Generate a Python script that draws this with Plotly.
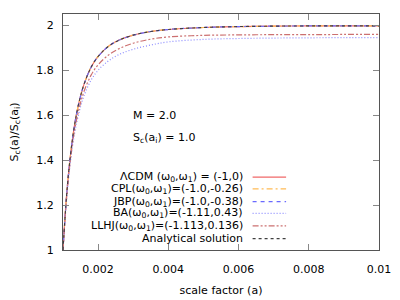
import plotly.graph_objects as go

# scale factor samples
a_vals = [0.001, 0.0011, 0.0012, 0.0013, 0.0014, 0.0015, 0.0016, 0.0018, 0.002,
          0.0023, 0.0026, 0.003, 0.0035, 0.004, 0.005, 0.006, 0.007, 0.008, 0.009, 0.01]

lcdm = [1.0, 1.238, 1.405, 1.527, 1.617, 1.685, 1.738, 1.813, 1.861,
        1.907, 1.934, 1.956, 1.972, 1.981, 1.990, 1.994, 1.996, 1.997, 1.997, 1.997]
cpl = [1.0, 1.238, 1.405, 1.527, 1.617, 1.685, 1.738, 1.813, 1.861,
       1.907, 1.934, 1.956, 1.972, 1.981, 1.990, 1.994, 1.996, 1.997, 1.997, 1.997]
jbp = [1.0, 1.238, 1.405, 1.527, 1.617, 1.685, 1.738, 1.813, 1.861,
       1.907, 1.934, 1.956, 1.972, 1.981, 1.990, 1.994, 1.996, 1.997, 1.997, 1.997]
ba = [1.0, 1.222, 1.378, 1.492, 1.575, 1.638, 1.687, 1.756, 1.800,
      1.842, 1.870, 1.893, 1.912, 1.926, 1.937, 1.941, 1.943, 1.944, 1.945, 1.945]
llhj = [1.0, 1.228, 1.388, 1.505, 1.590, 1.655, 1.706, 1.778, 1.824,
        1.868, 1.896, 1.920, 1.938, 1.948, 1.955, 1.957, 1.958, 1.958, 1.959, 1.959]
analytical = [1.0, 1.238, 1.405, 1.527, 1.617, 1.685, 1.738, 1.813, 1.861,
              1.907, 1.934, 1.956, 1.972, 1.981, 1.990, 1.994, 1.996, 1.997, 1.997, 1.997]

names = ["ΛCDM (ω<sub>0</sub>,ω<sub>1</sub>) = (-1,0)",
         "CPL(ω<sub>0</sub>,ω<sub>1</sub>)=(-1.0,-0.26)",
         "JBP(ω<sub>0</sub>,ω<sub>1</sub>)=(-1.0,-0.38)",
         "BA(ω<sub>0</sub>,ω<sub>1</sub>)=(-1.11,0.43)",
         "LLHJ(ω<sub>0</sub>,ω<sub>1</sub>)=(-1.113,0.136)",
         "Analytical solution"]
series = [lcdm, cpl, jbp, ba, llhj, analytical]
colors = ["#f06868", "#ffbb55", "#6a6aff", "#8c8cff", "#cc7070", "#404040"]
dashes = ["solid", "6px,3px,2px,3px", "4px,4px", "1px,2px", "6px,2px,2px,2px,2px,2px", "3px,3px"]
widths = [1.2, 1.2, 1.2, 1.2, 1.2, 1.1]

xticks = [0.002, 0.004, 0.006, 0.008, 0.01]
xticklabels = ["0.002", "0.004", "0.006", "0.008", "0.01"]
yticks = [1, 1.2, 1.4, 1.6, 1.8, 2]
yticklabels = ["1", "1.2", "1.4", "1.6", "1.8", "2"]

FONT = "DejaVu Sans"
FS = 11
fig = go.Figure()
for ys, nm, c, d, w in zip(series, names, colors, dashes, widths):
    fig.add_trace(go.Scatter(x=a_vals, y=ys, mode="lines", name=nm,
                             line=dict(color=c, dash=d, width=w, shape="spline"),
                             showlegend=False))

# gnuplot-style legend: text right-aligned, sample to the right
leg_y = [0.309, 0.259, 0.205, 0.155, 0.102, 0.048]
for nm, c, d, yy in zip(names, colors, dashes, leg_y):
    fig.add_annotation(x=0.575, y=yy, xref="paper", yref="paper", text=nm,
                       showarrow=False, xanchor="right", yanchor="middle",
                       font=dict(family=FONT, size=FS, color="#000"))
    fig.add_shape(type="line", xref="paper", yref="paper", x0=0.6, x1=0.706,
                  y0=yy, y1=yy, line=dict(color=c, dash=d, width=1.2))

fig.add_annotation(x=0.215, y=0.572, xref="paper", yref="paper", text="M = 2.0",
                   showarrow=False, xanchor="left", yanchor="middle",
                   font=dict(family=FONT, size=FS, color="#000"))
fig.add_annotation(x=0.215, y=0.473, xref="paper", yref="paper",
                   text="S<sub>c</sub>(a<sub>i</sub>) = 1.0",
                   showarrow=False, xanchor="left", yanchor="middle",
                   font=dict(family=FONT, size=FS, color="#000"))

# page body has an 8px margin; size the figure so the plot area lands where the reference has it
fig.update_layout(
    width=392, height=292,
    margin=dict(l=51, r=21, t=5, b=41),
    paper_bgcolor="white", plot_bgcolor="white",
    font=dict(family=FONT, size=FS, color="#000"),
    xaxis=dict(range=[0.001, 0.01], tickvals=xticks, ticktext=xticklabels,
               ticks="inside", ticklen=6, tickcolor="#888", mirror="ticks",
               showline=True, linecolor="#555", linewidth=1, showgrid=False,
               zeroline=False, ticklabelstandoff=9,
               title=dict(text="scale factor (a)", standoff=11,
                          font=dict(family=FONT, size=FS))),
    yaxis=dict(range=[1, 2.05], tickvals=yticks, ticktext=yticklabels,
               ticks="inside", ticklen=6, tickcolor="#888", mirror="ticks",
               showline=True, linecolor="#555", linewidth=1, showgrid=False,
               zeroline=False, ticklabelstandoff=6,
               title=dict(text="S<sub>c</sub>(a)/S<sub>c</sub>(a<sub>i</sub>)", standoff=16,
                          font=dict(family=FONT, size=FS))),
)
fig.write_html("out.html")
